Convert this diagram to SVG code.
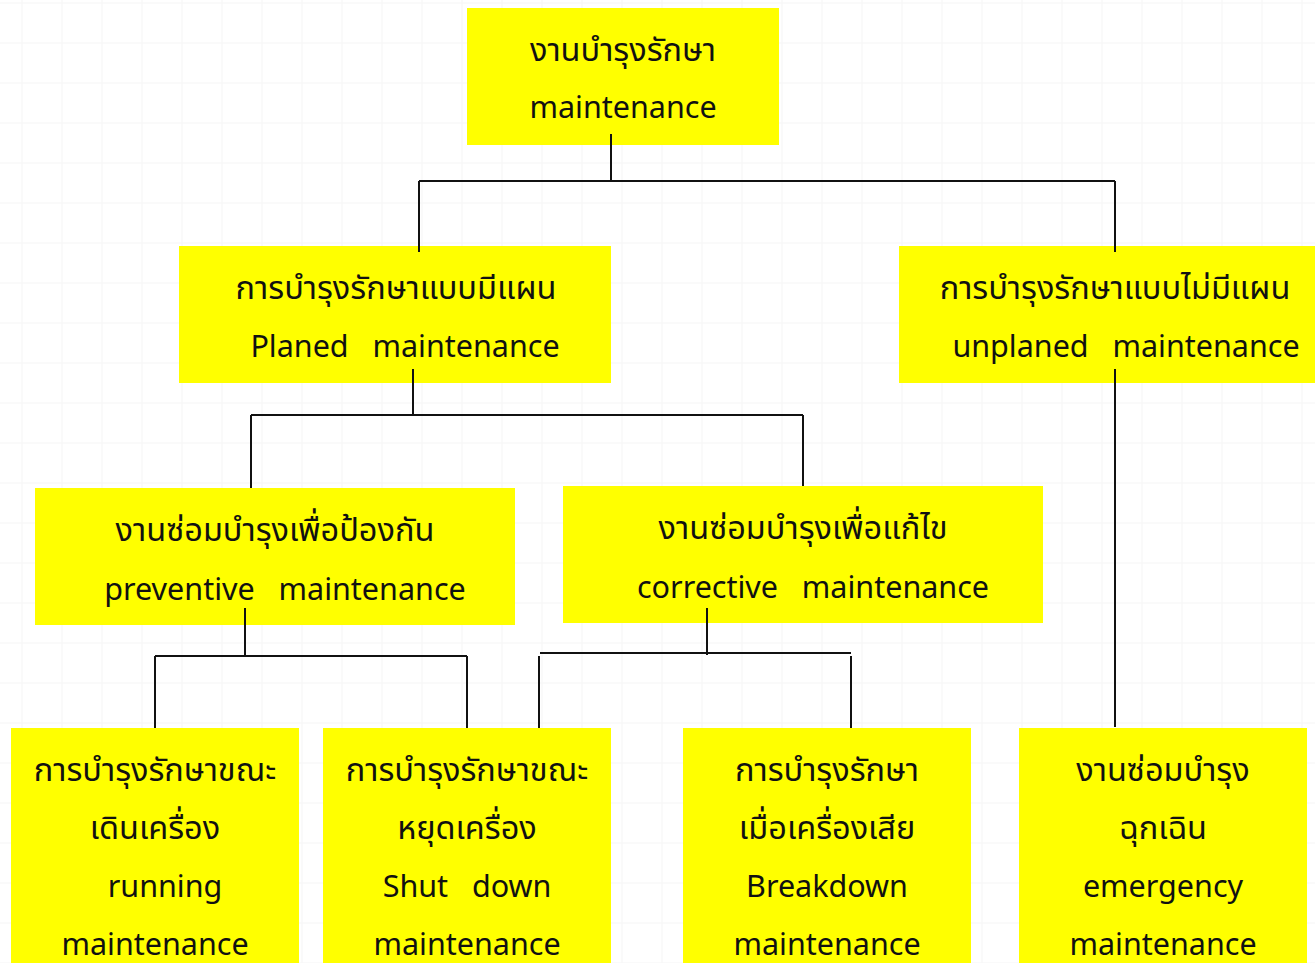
<svg xmlns="http://www.w3.org/2000/svg" width="1315" height="963" viewBox="0 0 1315 963">
<defs>
<pattern id="grid" x="21.5" y="2.5" width="40" height="40" patternUnits="userSpaceOnUse">
<path d="M0 0H40M0 0V40" fill="none" stroke="#f3f3f3" stroke-width="1.5"/>
</pattern>
</defs>
<style>
.box{fill:#ffff00}
.t{font-family:"Noto Sans","Noto Sans Thai","Leelawadee UI","Tahoma","DejaVu Sans",sans-serif;font-size:30.5px;fill:#111;text-anchor:middle}
.th{font-size:32.5px}
.c{fill:none;stroke:#111;stroke-width:2}
</style>
<rect width="1315" height="963" fill="#ffffff"/>
<rect width="1315" height="963" fill="url(#grid)"/>
<g id="n1"><rect class="box" x="467" y="8" width="312" height="137"/>
<text class="t th" x="623" y="61">งานบำรุงรักษา</text><text class="t" x="623" y="118">maintenance</text></g>
<g id="n2"><rect class="box" x="179" y="246" width="432" height="137"/>
<text class="t th" x="396" y="299">การบำรุงรักษาแบบมีแผน</text><text class="t" x="405" y="357" xml:space="preserve">Planed   maintenance</text></g>
<g id="n3"><rect class="box" x="899" y="246" width="416" height="137"/>
<text class="t th" x="1115" y="299">การบำรุงรักษาแบบไม่มีแผน</text><text class="t" x="1126" y="357" xml:space="preserve">unplaned   maintenance</text></g>
<g id="n4"><rect class="box" x="35" y="488" width="480" height="137"/>
<text class="t th" x="275" y="541">งานซ่อมบำรุงเพื่อป้องกัน</text><text class="t" x="285" y="600" xml:space="preserve">preventive   maintenance</text></g>
<g id="n5"><rect class="box" x="563" y="486" width="480" height="137"/>
<text class="t th" x="803" y="539">งานซ่อมบำรุงเพื่อแก้ไข</text><text class="t" x="813" y="598" xml:space="preserve">corrective   maintenance</text></g>
<g id="n6"><rect class="box" x="11" y="728" width="288" height="235"/>
<text class="t th" x="155" y="781">การบำรุงรักษาขณะ</text><text class="t th" x="155" y="839">เดินเครื่อง</text><text class="t" x="165" y="897">running</text><text class="t" x="155" y="955">maintenance</text></g>
<g id="n7"><rect class="box" x="323" y="728" width="288" height="235"/>
<text class="t th" x="467" y="781">การบำรุงรักษาขณะ</text><text class="t th" x="467" y="839">หยุดเครื่อง</text><text class="t" x="467" y="897" xml:space="preserve">Shut   down</text><text class="t" x="467" y="955">maintenance</text></g>
<g id="n8"><rect class="box" x="683" y="728" width="288" height="235"/>
<text class="t th" x="827" y="781">การบำรุงรักษา</text><text class="t th" x="827" y="839">เมื่อเครื่องเสีย</text><text class="t" x="827" y="897">Breakdown</text><text class="t" x="827" y="955">maintenance</text></g>
<g id="n9"><rect class="box" x="1019" y="728" width="288" height="235"/>
<text class="t th" x="1163" y="781">งานซ่อมบำรุง</text><text class="t th" x="1163" y="839">ฉุกเฉิน</text><text class="t" x="1163" y="897">emergency</text><text class="t" x="1163" y="955">maintenance</text></g>
<g id="connectors">
<path class="c" d="M611 134V181M419 181H1115M419 181V252M1115 181V252"/>
<path class="c" d="M413 369V415M251 415H803M251 415V488M803 415V486"/>
<path class="c" d="M1115 369V727"/>
<path class="c" d="M245 608V656M155 656H467M155 656V728M467 656V728"/>
<path class="c" d="M707 608V655M540 653H851M539 656V728M851 656V728"/>
</g>
</svg>
